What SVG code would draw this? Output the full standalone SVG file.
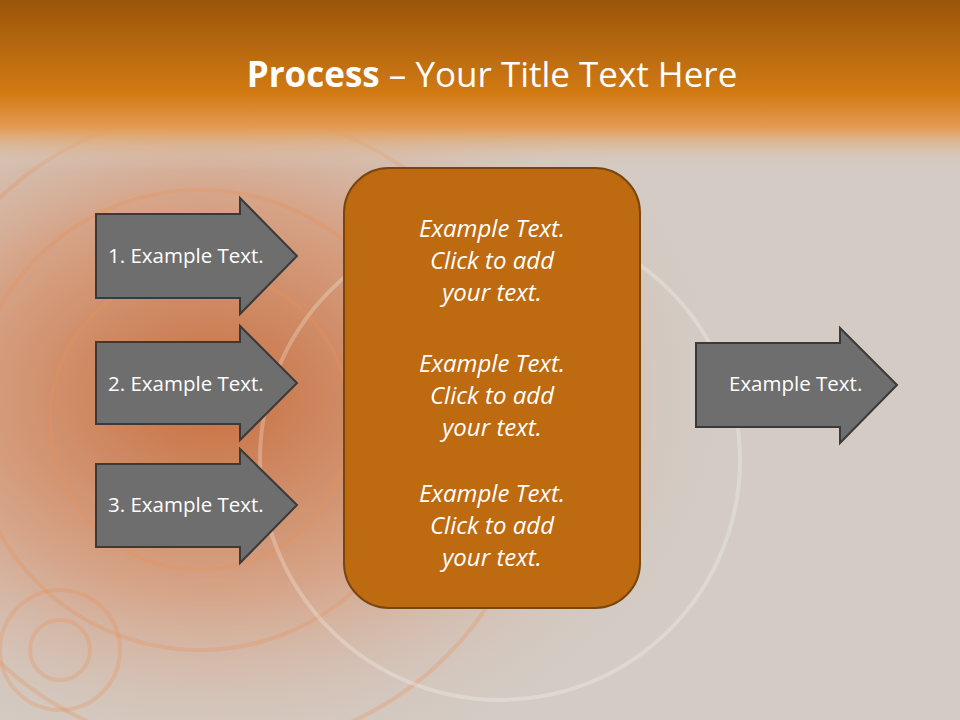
<svg xmlns="http://www.w3.org/2000/svg" width="960" height="720" viewBox="0 0 960 720">
<defs>
<linearGradient id="top" x1="0" y1="0" x2="0" y2="1">
<stop offset="0" stop-color="#9a560a"/><stop offset="0.55" stop-color="#d27a14"/><stop offset="0.75" stop-color="#e49a52"/><stop offset="1" stop-color="#d9cfc8" stop-opacity="0"/>
</linearGradient>
<radialGradient id="swirl" cx="0.22" cy="0.55" r="0.55">
<stop offset="0" stop-color="#c87040"/><stop offset="0.5" stop-color="#d6a488"/><stop offset="1" stop-color="#d4ccc6" stop-opacity="0"/>
</radialGradient>
<style>
.arr{fill:#6e6e6e;stroke:#3a3a3a;stroke-width:2}
.lbl{font-family:"Open Sans","Liberation Sans",sans-serif;font-size:20.5px;fill:#fff}
.box{font-family:"Open Sans","Liberation Sans",sans-serif;font-size:24px;font-style:italic;fill:#fff;text-anchor:middle}
.ring{fill:none;stroke:#e8915a;stroke-opacity:0.3}
</style>
</defs>
<rect width="960" height="720" fill="#d3cbc4"/>
<rect width="960" height="720" fill="url(#swirl)"/>
<g stroke-width="4">
<circle class="ring" cx="200" cy="420" r="150"/>
<circle class="ring" cx="200" cy="420" r="230"/>
<circle class="ring" cx="220" cy="430" r="320"/>
<circle class="ring" cx="60" cy="650" r="60"/>
<circle class="ring" cx="60" cy="650" r="30"/>
<circle cx="500" cy="460" r="240" fill="none" stroke="#ffffff" stroke-opacity="0.25"/>
</g>
<rect width="960" height="170" fill="url(#top)"/>
<text x="492" y="87" text-anchor="middle" font-family="'Open Sans','Liberation Sans',sans-serif" font-size="35" fill="#fff"><tspan font-weight="bold">Process</tspan> – Your Title Text Here</text>
<g id="connectors">
<path id="a1" class="arr" d="M96 214H240V198L297 256L240 314V298H96Z"/>
<path id="a2" class="arr" d="M96 342H240V326L297 383L240 440V424H96Z"/>
<path id="a3" class="arr" d="M96 464H240V449L297 505L240 563V547H96Z"/>
<path id="a4" class="arr" d="M696 343H840V328L897 385L840 443V427H696Z"/>
</g>
<g id="n1"><text class="lbl" x="108" y="263">1. Example Text.</text></g>
<g id="n2"><text class="lbl" x="108" y="391">2. Example Text.</text></g>
<g id="n3"><text class="lbl" x="108" y="512">3. Example Text.</text></g>
<g id="n4"><text class="lbl" x="729" y="391">Example Text.</text></g>
<g id="center">
<rect x="344" y="168" width="296" height="440" rx="45" fill="#be6a10" stroke="#7a4610" stroke-width="2"/>
<text class="box" x="492" y="237">Example Text.</text>
<text class="box" x="492" y="269">Click  to add</text>
<text class="box" x="492" y="301">your text.</text>
<text class="box" x="492" y="372">Example Text.</text>
<text class="box" x="492" y="404">Click  to add</text>
<text class="box" x="492" y="436">your text.</text>
<text class="box" x="492" y="502">Example Text.</text>
<text class="box" x="492" y="534">Click  to add</text>
<text class="box" x="492" y="566">your text.</text>
</g>
</svg>
